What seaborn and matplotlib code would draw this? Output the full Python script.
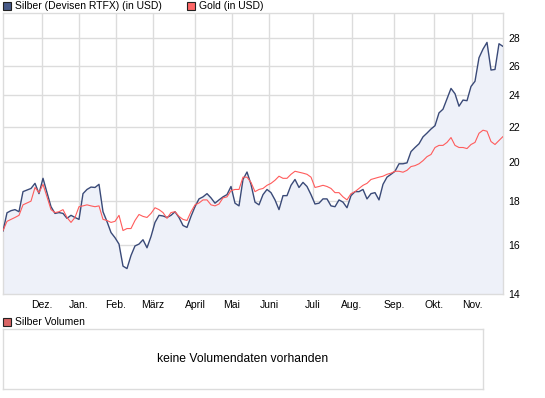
import numpy as np
import pandas as pd
import matplotlib
matplotlib.use("Agg")
import matplotlib.pyplot as plt
from matplotlib.patches import Rectangle
from matplotlib.ticker import FixedLocator, NullLocator
import seaborn as sns

# ---------------- data ----------------
silver = [16.6, 17.45, 17.55, 17.6, 17.5, 18.48, 18.56, 18.64, 18.9, 18.38,
          19.16, 18.43, 17.74, 17.42, 17.46, 17.42, 17.19, 17.33, 17.23, 17.14,
          18.38, 18.59, 18.71, 18.69, 18.85, 17.5, 17.04, 16.54, 16.31, 16.03,
          15.1, 15.0, 15.54, 15.95, 16.03, 16.22, 15.87, 16.36, 17.0, 17.33,
          17.3, 17.23, 17.33, 17.5, 17.23, 16.86, 16.77, 17.28, 17.74, 18.12,
          18.22, 18.38, 18.17, 17.91, 18.07, 18.22, 18.33, 18.74, 17.91, 17.78,
          19.1, 19.49, 18.85, 17.96, 17.83, 18.33, 18.59, 18.43, 18.07, 17.6,
          18.28, 18.28, 18.8, 19.1, 18.69, 18.95, 18.74, 18.33, 17.87, 17.91,
          18.12, 18.12, 17.78, 17.74, 18.07, 17.96, 17.69, 18.28, 18.48, 18.48,
          18.59, 18.12, 18.38, 18.43, 18.07, 18.85, 19.22, 19.37, 19.53, 19.93,
          19.93, 19.98, 20.6, 20.83, 21.04, 21.44, 21.66, 21.9, 22.1, 22.88,
          23.11, 23.77, 24.45, 24.1, 23.3, 23.69, 23.65, 24.58, 24.93, 26.57,
          27.2, 27.7, 25.7, 25.74, 27.6, 27.4]
gold = [16.63, 17.05, 17.14, 17.23, 17.33, 17.83, 17.92, 18.01, 18.69, 18.43,
        18.85, 18.22, 17.6, 17.46, 17.5, 17.6, 17.23, 17.0, 17.23, 17.74,
        17.78, 17.83, 17.78, 17.74, 17.78, 17.14, 17.09, 17.0, 17.05, 17.33,
        16.63, 16.72, 16.72, 17.09, 17.37, 17.28, 17.23, 17.42, 17.69, 17.6,
        17.46, 17.19, 17.46, 17.5, 17.28, 17.14, 17.09, 17.5, 17.83, 17.92,
        18.07, 18.07, 17.83, 17.78, 17.87, 18.17, 18.22, 18.53, 18.59, 18.59,
        19.22, 19.22, 18.95, 18.48, 18.59, 18.64, 18.8, 18.9, 19.06, 19.27,
        19.16, 19.16, 19.37, 19.53, 19.48, 19.43, 19.37, 19.22, 18.69, 18.74,
        18.8, 18.74, 18.64, 18.43, 18.43, 18.22, 18.07, 18.38, 18.48, 18.64,
        18.8, 18.9, 19.1, 19.16, 19.22, 19.27, 19.37, 19.43, 19.53, 19.53,
        19.48, 19.58, 19.78, 19.83, 19.93, 20.1, 20.32, 20.44, 20.83, 20.95,
        20.95, 21.12, 21.4, 20.95, 20.83, 20.83, 20.77, 21.0, 21.12, 21.65,
        21.83, 21.77, 21.17, 21.0, 21.23, 21.46]
month_labels = ["Dez.", "Jan.", "Feb.", "März", "April", "Mai", "Juni",
                "Juli", "Aug.", "Sep.", "Okt.", "Nov."]
month_start_idx = [9.75, 19, 28.25, 37.5, 48, 57.25, 66.5, 77.5, 87.25,
                   97.75, 107.75, 117.25]
y_ticks = [14, 16, 18, 20, 22, 24, 26, 28]
silver_label = "Silber (Devisen RTFX) (in USD)"
gold_label = "Gold (in USD)"
vol_label = "Silber Volumen"
vol_text = "keine Volumendaten vorhanden"

df = pd.DataFrame({"idx": np.arange(len(silver)), "silver": silver, "gold": gold})

# ---------------- style ----------------
sns.set_theme(style="white")
plt.rcParams["font.family"] = ["Liberation Sans", "DejaVu Sans"]
FS = 7.5
SILVER_C = "#3a4a78"
GOLD_C = "#ff5c5c"
FILL_C = "#eef1f9"
GRID_C = "#dcdcdc"

W, H = 545, 398
fig = plt.figure(figsize=(W / 100, H / 100), dpi=100)
fig.patch.set_facecolor("white")

# main price panel
ax = fig.add_axes([3 / W, 1 - 294 / H, 500 / W, 281 / H])
ax.set_yscale("log")
ax.fill_between(df["idx"], df["silver"], 10, color=FILL_C, lw=0, zorder=1)
sns.lineplot(data=df, x="idx", y="silver", ax=ax, color=SILVER_C, lw=1.0, zorder=3)
sns.lineplot(data=df, x="idx", y="gold", ax=ax, color=GOLD_C, lw=0.8, zorder=4)
ax.set_xlim(0, len(silver) - 1)
ax.set_ylim(14, 30)
ax.yaxis.set_major_locator(FixedLocator(y_ticks))
ax.yaxis.set_minor_locator(NullLocator())
ax.set_yticklabels([str(t) for t in y_ticks])
ax.yaxis.tick_right()
ax.set_xticks(month_start_idx)
ax.set_xticklabels(month_labels)
ax.tick_params(axis="both", length=0, labelsize=FS, colors="black")
ax.tick_params(axis="y", pad=4)
ax.tick_params(axis="x", pad=4)
ax.grid(True, color=GRID_C, lw=1.0, zorder=0)
ax.set_axisbelow(True)
ax.set_xlabel("")
ax.set_ylabel("")
for s in ax.spines.values():
    s.set_color(GRID_C)
    s.set_linewidth(1.0)
ax.set_facecolor("white")

# volume panel
ax2 = fig.add_axes([3 / W, 1 - 389 / H, 480 / W, 60 / H])
ax2.set_xticks([])
ax2.set_yticks([])
for s in ax2.spines.values():
    s.set_color(GRID_C)
    s.set_linewidth(1.0)
ax2.text(0.5, 0.5, vol_text, transform=ax2.transAxes, ha="center", va="center",
         fontsize=8.7, color="black")

# legends
def legend_item(xpx, ypx, color, label):
    fig.patches.append(Rectangle((xpx / W, 1 - (ypx + 4) / H), 8 / W, 8 / H,
                                 transform=fig.transFigure, facecolor=color,
                                 edgecolor="#222222", lw=0.8))
    fig.text((xpx + 12) / W, 1 - ypx / H, label, fontsize=FS, va="center",
             ha="left", color="black")

legend_item(3, 6, "#475a88", silver_label)
legend_item(187, 6, "#ff6666", gold_label)
legend_item(3, 322, "#d96464", vol_label)

fig.savefig("out.png", dpi=100)
